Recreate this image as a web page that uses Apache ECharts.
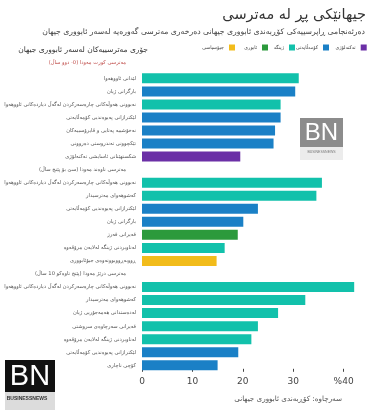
<!DOCTYPE html>
<html>
<head>
<meta charset="utf-8">
<script src="https://cdn.jsdelivr.net/npm/echarts@6/dist/echarts.min.js"></script>
<style>
html,body{margin:0;padding:0;background:#fff;}
#chart{width:381px;height:415px;}
</style>
</head>
<body>
<div id="chart"></div>
<script>
// ---- data ----
var groupHeaders = [
  'مەترسی کورت مەودا (0- دوو ساڵ)',
  'مەترسی ناوەند مەودا (سێ بۆ پێنج ساڵ)',
  'مەترسی درێژ مەودا (پێنج تاوەکو 10 ساڵ)'
];
var shortTermLabels = [
  'لێدانی ئاووهەوا',
  'بارگرانی ژیان',
  'نەبوونی هەوڵەکانی چارەسەرکردن لەگەڵ دیاردەکانی ئاووهەوا',
  'لێکترازانی پەیوەندیی کۆمەڵایەتی',
  'نەخۆشییە پەتایی و ڤایرۆسییەکان',
  'تێکچوونی تەندروستی دەروونی',
  'شکستهێنانی ئاسایشی تەکنەلۆژی'
];
var shortTermValues = [31.1, 30.4, 27.5, 27.5, 26.4, 26.1, 19.5];
var shortTermTypes = ['env', 'soc', 'env', 'soc', 'soc', 'soc', 'tech'];

var mediumTermLabels = [
  'نەبوونی هەوڵەکانی چارەسەرکردن لەگەڵ دیاردەکانی ئاووهەوا',
  'کەشوهەوای مەترسیدار',
  'لێکترازانی پەیوەندیی کۆمەڵایەتی',
  'بارگرانی ژیان',
  'قەیرانی قەرز',
  'لەناوبردنی ژینگە لەلایەن مرۆڤەوە',
  'ڕووبەڕووبوونەوەی جیۆئابووری'
];
var mediumTermValues = [35.7, 34.6, 23.0, 20.1, 19.0, 16.4, 14.8];
var mediumTermTypes = ['env', 'env', 'soc', 'soc', 'eco', 'env', 'geo'];

var longTermLabels = [
  'نەبوونی هەوڵەکانی چارەسەرکردن لەگەڵ دیاردەکانی ئاووهەوا',
  'کەشوهەوای مەترسیدار',
  'لەدەستدانی هەمەجۆریی ژیان',
  'قەیرانی سەرچاوەی سروشتی',
  'لەناوبردنی ژینگە لەلایەن مرۆڤەوە',
  'لێکترازانی پەیوەندیی کۆمەڵایەتی',
  'کۆچی ناچاری'
];
var longTermValues = [42.1, 32.4, 27.0, 23.0, 21.7, 19.1, 15.0];
var longTermTypes = ['env', 'env', 'env', 'env', 'env', 'soc', 'soc'];

var typeKeys = ['geo', 'eco', 'env', 'soc', 'tech'];
var typeNames = ['جیۆسیاسی', 'ئابوری', 'ژینگە', 'کۆمەڵایەتی', 'تەکنەلۆژی'];
var typeColors = ['#f2bc1b', '#2c9a3c', '#12c1ab', '#1a80c6', '#6b2fa6'];

var xTickValues = [0, 10, 20, 30, 40];

// ---- build rows ----
var rows = [];
function addGroup(hi, labels, values, types) {
  rows.push({ kind: hi === 0 ? 'r' : 'h', text: groupHeaders[hi] });
  for (var i = 0; i < labels.length; i++) {
    rows.push({ kind: 'n', text: labels[i], value: values[i], type: types[i] });
  }
}
addGroup(0, shortTermLabels, shortTermValues, shortTermTypes);
addGroup(1, mediumTermLabels, mediumTermValues, mediumTermTypes);
addGroup(2, longTermLabels, longTermValues, longTermTypes);

var catIds = rows.map(function (r, i) { return String(i); });
var FF = 'DejaVu Sans';

var series = typeKeys.map(function (k, ti) {
  return {
    name: typeNames[ti],
    type: 'bar',
    stack: 'all',
    barWidth: 10,
    itemStyle: { color: typeColors[ti] },
    data: rows.map(function (r) { return (r.kind === 'n' && r.type === k) ? r.value : '-'; })
  };
});

// one legend block per category, placed like the reference
var legendRight = [146, 113, 86, 52, 14.3];
var legends = typeNames.map(function (n, i) {
  return {
    data: [n],
    right: legendRight[i],
    top: 44.5,
    align: 'right',
    icon: 'rect',
    itemWidth: 6,
    itemHeight: 6,
    padding: 0,
    selectedMode: false,
    textStyle: { fontSize: 4.8, color: '#444', fontFamily: FF }
  };
});

var chart = echarts.init(document.getElementById('chart'), null, { renderer: 'canvas' });
chart.setOption({
  backgroundColor: '#ffffff',
  animation: false,
  textStyle: { fontFamily: FF },
  legend: legends,
  grid: { left: 142, right: -13, top: 58.8, bottom: 43.2, containLabel: false, outerBoundsMode: 'none' },
  xAxis: {
    type: 'value',
    min: 0,
    max: 50,
    interval: 10,
    axisLine: { show: false },
    splitLine: { show: false },
    axisTick: { show: true, inside: true, length: 3, lineStyle: { color: '#444' } },
    axisLabel: {
      margin: 5,
      fontSize: 9,
      color: '#444',
      fontFamily: FF,
      formatter: function (v) {
        if (xTickValues.indexOf(v) < 0) return '';
        return v === 40 ? '%40' : String(v);
      }
    }
  },
  yAxis: {
    type: 'category',
    inverse: true,
    data: catIds,
    axisLine: { show: false },
    axisTick: { show: false },
    splitLine: { show: false },
    axisLabel: {
      interval: 0,
      margin: 6,
      formatter: function (v) {
        var r = rows[+v];
        return '{' + r.kind + '|' + r.text + '}';
      },
      rich: {
        n: { fontSize: 5.2, color: '#555', fontFamily: FF },
        h: { fontSize: 5.2, color: '#555', fontFamily: FF, padding: [0, 10, 0, 0] },
        r: { fontSize: 5.2, color: '#c0504d', fontFamily: FF, padding: [0, 10, 6, 0] }
      }
    }
  },
  series: series,
  graphic: [
    { type: 'text', x: 366, y: 15, style: { text: 'جیهانێکی پڕ لە مەترسی', fontSize: 14.5, fill: '#333', textAlign: 'right', textVerticalAlign: 'middle', fontFamily: FF } },
    { type: 'text', x: 365, y: 32, style: { text: 'دەرئەنجامی ڕاپرسییەکی کۆڕبەندی ئابووری جیهانی دەرخەری مەترسی گەورەیە لەسەر ئابووری جیهان', fontSize: 7.7, fill: '#444', textAlign: 'right', textVerticalAlign: 'middle', fontFamily: FF } },
    { type: 'text', x: 148, y: 50, style: { text: 'جۆری مەترسییەکان لەسەر ئابووری جیهان', fontSize: 7.5, fill: '#333', textAlign: 'right', textVerticalAlign: 'middle', fontFamily: FF } },
    { type: 'text', x: 342, y: 399, style: { text: 'سەرچاوە: کۆڕبەندی ئابووری جیهانی', fontSize: 7.2, fill: '#555', textAlign: 'right', textVerticalAlign: 'middle', fontFamily: FF } },
    // watermark logo
    { type: 'rect', shape: { x: 300, y: 118, width: 43, height: 42 }, style: { fill: '#ececec' }, z: 1 },
    { type: 'rect', shape: { x: 300, y: 118, width: 43, height: 29 }, style: { fill: '#8c8c8c' }, z: 1 },
    { type: 'text', x: 321.5, y: 133, style: { text: 'BN', fontSize: 24, fill: '#fff', textAlign: 'center', textVerticalAlign: 'middle', fontFamily: 'Liberation Sans' }, z: 1 },
    { type: 'text', x: 321.5, y: 152, style: { text: 'BUSINESSNEWS', fontSize: 3.5, fill: '#777', textAlign: 'center', textVerticalAlign: 'middle', fontFamily: 'Liberation Sans' }, z: 1 },
    // bottom-left logo
    { type: 'rect', shape: { x: 5, y: 360, width: 50, height: 50 }, style: { fill: '#dcdcdc' } },
    { type: 'rect', shape: { x: 5, y: 360, width: 50, height: 32 }, style: { fill: '#111' } },
    { type: 'text', x: 30, y: 377, style: { text: 'BN', fontSize: 29, fill: '#fff', textAlign: 'center', textVerticalAlign: 'middle', fontFamily: 'Liberation Sans' } },
    { type: 'text', x: 27, y: 399, style: { text: 'BUSINESSNEWS', fontSize: 5, fontWeight: 'bold', fill: '#333', textAlign: 'center', textVerticalAlign: 'middle', fontFamily: 'Liberation Sans' } }
  ]
});
</script>
</body>
</html>
